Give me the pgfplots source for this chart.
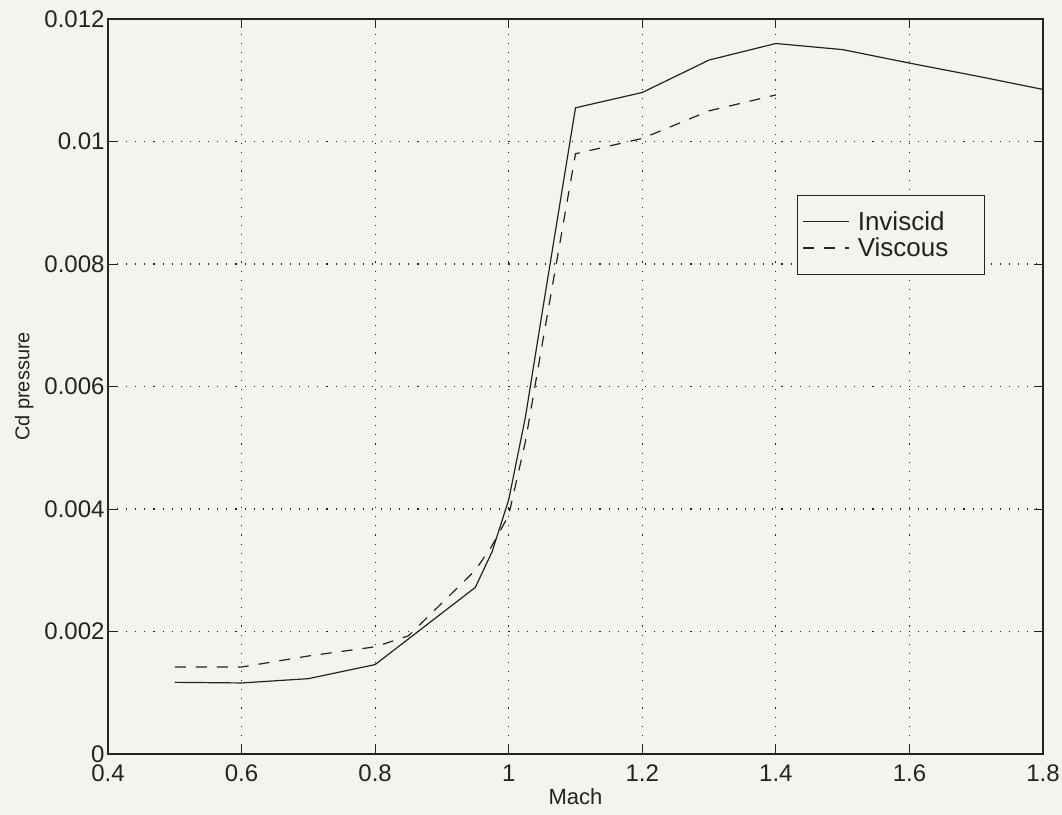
\documentclass[border=0pt]{standalone}
\usepackage{fontspec}
\setmainfont{Liberation Sans}
\usepackage{pgfplots}
\pgfplotsset{compat=1.18}
\definecolor{bg}{RGB}{244,244,238}
\definecolor{ink}{RGB}{35,35,35}
\begin{document}
\begin{tikzpicture}
\fill[bg] (-108bp,-61bp) rectangle (954bp,754bp);
\useasboundingbox (-108bp,-61bp) rectangle (954bp,754bp);
\begin{axis}[
  scale only axis,
  width=935bp, height=735bp,
  xmin=0.4, xmax=1.8, ymin=0, ymax=0.012,
  xtick={0.4,0.6,0.8,1,1.2,1.4,1.6,1.8},
  xticklabels={0.4,0.6,0.8,1,1.2,1.4,1.6,1.8},
  ytick={0,0.002,0.004,0.006,0.008,0.01,0.012},
  yticklabels={0,0.002,0.004,0.006,0.008,0.01,0.012},
  tick align=inside, tick pos=both,
  major tick length=9bp,
  every tick/.style={ink, line width=0.8bp},
  axis line style={ink, line width=1.1bp},
  grid=major,
  major grid style={ink, line width=1.1bp, dash pattern=on 1.1bp off 8bp},
  tick label style={font=\fontsize{24bp}{26bp}\selectfont, text=ink},
  xticklabel style={yshift=-7bp},
  yticklabel style={xshift=0bp},
  xlabel style={font=\fontsize{22bp}{24bp}\selectfont, text=ink, yshift=0bp},
  ylabel style={font=\fontsize{20bp}{24bp}\selectfont, text=ink, yshift=4bp},
  xlabel={Mach},
  ylabel={Cd pressure},
  legend style={at={(0.737,0.7605)}, anchor=north west, draw=ink, line width=1bp,
    fill=bg, font=\fontsize{26bp}{26bp}\selectfont, text=ink,
    inner xsep=5bp, inner ysep=14bp, row sep=2bp},
  legend cell align=left,
  legend image code/.code={\draw[#1] (0bp,0bp) -- (46bp,0bp);},
]
\addplot[ink, line width=1.2bp] coordinates {
 (0.5,0.00117) (0.6,0.00116) (0.7,0.00123) (0.8,0.00146) (0.95,0.00272)
 (0.975,0.00330) (1.0,0.00415) (1.025,0.00550) (1.05,0.00720) (1.1,0.01055)
 (1.2,0.01080) (1.3,0.01133) (1.4,0.01160) (1.5,0.01150) (1.6,0.01128)
 (1.7,0.01107) (1.8,0.01085)};
\addlegendentry{\makebox[126bp][l]{\hspace{6bp}Inviscid}}
\addplot[ink, line width=1.2bp, dash pattern=on 11bp off 10bp] coordinates {
 (0.5,0.00142) (0.6,0.00142) (0.7,0.00160) (0.8,0.00175) (0.85,0.00193)
 (0.95,0.00300) (0.975,0.00340) (1.0,0.00390) (1.025,0.00510) (1.05,0.00668)
 (1.1,0.00980) (1.2,0.01005) (1.3,0.01050) (1.4,0.01076)};
\addlegendentry{\makebox[126bp][l]{\hspace{6bp}Viscous}}
\end{axis}
\end{tikzpicture}
\end{document}
